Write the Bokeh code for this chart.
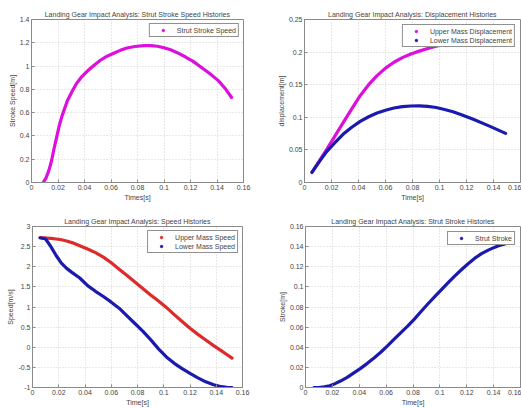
from bokeh.plotting import figure
from bokeh.layouts import column, row
from bokeh.models import Range1d, FixedTicker, Legend, LegendItem
from bokeh.embed import file_html
from bokeh.resources import INLINE

# ---------------- data ----------------
x_ticks = [0, 0.02, 0.04, 0.06, 0.08, 0.10, 0.12, 0.14, 0.16]
x_tick_labels = ["0", "0.02", "0.04", "0.06", "0.08", "0.1", "0.12", "0.14", "0.16"]

# Strut stroke speed
t_ss = [0.0089, 0.011, 0.013, 0.015, 0.017, 0.019, 0.021, 0.023, 0.027, 0.031, 0.034,
        0.038, 0.042, 0.047, 0.052, 0.057, 0.062, 0.067, 0.072, 0.078, 0.085, 0.090,
        0.095, 0.100, 0.105, 0.110, 0.116, 0.122, 0.128, 0.134, 0.141, 0.146, 0.151]
strut_speed = [0.0, 0.04, 0.10, 0.18, 0.29, 0.39, 0.49, 0.57, 0.70, 0.79, 0.85,
               0.91, 0.955, 1.005, 1.05, 1.085, 1.11, 1.135, 1.155, 1.168, 1.175, 1.175,
               1.17, 1.157, 1.14, 1.115, 1.08, 1.04, 0.99, 0.94, 0.875, 0.81, 0.73]
ss_ticks = [0, 0.2, 0.4, 0.6, 0.8, 1.0, 1.2, 1.4]
ss_tick_labels = ["0", "0.2", "0.4", "0.6", "0.8", "1", "1.2", "1.4"]

# Displacements
t_disp = [0.0055, 0.011, 0.01625, 0.0225, 0.02875, 0.035, 0.04125, 0.0475, 0.05375,
          0.060, 0.06625, 0.0725, 0.07875, 0.085, 0.09125, 0.0975, 0.10375, 0.110,
          0.11625, 0.125, 0.137, 0.149]
upper_disp = [0.0154, 0.033, 0.050, 0.071, 0.0922, 0.113, 0.1332, 0.150, 0.164,
              0.1755, 0.1844, 0.1915, 0.197, 0.2015, 0.2055, 0.209, 0.2122, 0.215,
              0.2175, 0.2205, 0.2228, 0.2238]
lower_disp = [0.0154, 0.032, 0.047, 0.061, 0.0743, 0.0848, 0.0938, 0.1008, 0.1066,
              0.1108, 0.1142, 0.1163, 0.1173, 0.1175, 0.1168, 0.1150, 0.1120, 0.1084,
              0.1040, 0.0970, 0.0865, 0.0753]
disp_ticks = [0, 0.05, 0.10, 0.15, 0.20, 0.25]
disp_tick_labels = ["0", "0.05", "0.1", "0.15", "0.2", "0.25"]

# Speeds
t_spd = [0.0058, 0.010, 0.014, 0.018, 0.022, 0.026, 0.030, 0.036, 0.042, 0.048,
         0.054, 0.060, 0.066, 0.072, 0.078, 0.084, 0.090, 0.096, 0.102, 0.108,
         0.114, 0.120, 0.126, 0.132, 0.138, 0.144, 0.148, 0.152]
upper_speed = [2.72, 2.715, 2.705, 2.69, 2.67, 2.64, 2.60, 2.52, 2.44, 2.35,
               2.24, 2.10, 1.94, 1.78, 1.62, 1.46, 1.30, 1.15, 0.99, 0.81,
               0.64, 0.47, 0.32, 0.18, 0.04, -0.09, -0.18, -0.27]
lower_speed = [2.72, 2.69, 2.50, 2.28, 2.09, 1.96, 1.86, 1.72, 1.53, 1.39,
               1.26, 1.12, 0.97, 0.78, 0.59, 0.40, 0.19, -0.04, -0.24, -0.40,
               -0.53, -0.65, -0.76, -0.86, -0.93, -0.98, -0.995, -1.0]
spd_ticks = [-1, -0.5, 0, 0.5, 1, 1.5, 2, 2.5, 3]
spd_tick_labels = ["-1", "-0.5", "0", "0.5", "1", "1.5", "2", "2.5", "3"]

# Strut stroke
t_st = [0.0063, 0.010, 0.014, 0.018, 0.022, 0.026, 0.031, 0.036, 0.041, 0.046,
        0.051, 0.056, 0.061, 0.066, 0.071, 0.076, 0.081, 0.086, 0.091, 0.096,
        0.101, 0.106, 0.111, 0.116, 0.121, 0.126, 0.131, 0.136, 0.141, 0.145, 0.149]
stroke = [0.0, 0.0, 0.0006, 0.0018, 0.0038, 0.0064, 0.010, 0.0145, 0.019, 0.024,
          0.0293, 0.035, 0.0413, 0.048, 0.0545, 0.061, 0.068, 0.0755, 0.083, 0.090,
          0.097, 0.104, 0.1107, 0.117, 0.123, 0.1285, 0.133, 0.1365, 0.1395, 0.1415, 0.143]
st_ticks = [0, 0.02, 0.04, 0.06, 0.08, 0.10, 0.12, 0.14, 0.16]
st_tick_labels = ["0", "0.02", "0.04", "0.06", "0.08", "0.1", "0.12", "0.14", "0.16"]

MAGENTA = "#dc0fdc"
BLUE = "#1a1aae"
RED = "#de2a2a"
FONT = "Liberation Sans"
TXT = "#444444"
FRAME = "#8a8a8a"


def make_fig(title, xlabel, ylabel, yrange, yticks, ylabels, w, h, bl, br, bt, bb):
    p = figure(width=w, height=h, output_backend="svg", toolbar_location=None,
               x_range=Range1d(0, 0.16), y_range=Range1d(*yrange),
               min_border_left=bl, min_border_right=br,
               min_border_top=bt, min_border_bottom=bb)
    p.background_fill_color = "white"
    p.border_fill_color = "white"
    p.outline_line_color = FRAME
    p.outline_line_width = 1
    p.title.text = title
    p.title.text_font = FONT
    p.title.text_font_size = "7px"
    p.title.text_font_style = "normal"
    p.title.text_color = TXT
    p.title.align = "center"
    p.title.standoff = 3
    p.xaxis.ticker = FixedTicker(ticks=x_ticks)
    p.xaxis.major_label_overrides = dict(zip(x_ticks, x_tick_labels))
    p.yaxis.ticker = FixedTicker(ticks=yticks)
    p.yaxis.major_label_overrides = dict(zip(yticks, ylabels))
    p.xaxis.axis_label = xlabel
    p.yaxis.axis_label = ylabel
    for ax in (p.xaxis, p.yaxis):
        ax.axis_label_text_font = FONT
        ax.axis_label_text_font_size = "7px"
        ax.axis_label_text_font_style = "normal"
        ax.axis_label_text_color = TXT
        ax.major_label_text_font = FONT
        ax.major_label_text_font_size = "7px"
        ax.major_label_text_color = TXT
        ax.axis_line_color = FRAME
        ax.major_tick_line_color = FRAME
        ax.major_tick_in = 3
        ax.major_tick_out = 0
        ax.minor_tick_line_color = None
        ax.major_label_standoff = 2
        ax.axis_label_standoff = 1
    p.grid.grid_line_color = "#d0d0d0"
    p.grid.grid_line_dash = "1 2"
    p.grid.grid_line_width = 1
    return p


def add_series(p, x, y, color):
    p.line(x, y, line_width=3.2, color=color, line_join="round", line_cap="round")
    r = p.scatter(x, y, size=0, marker="circle", fill_color=color, line_color=color)
    return r


def add_legend(p, items, margin):
    lg = Legend(items=[LegendItem(label=l, renderers=[r]) for l, r in items],
                location="top_right")
    lg.label_text_font = FONT
    lg.label_text_font_size = "7px"
    lg.label_text_color = TXT
    lg.label_height = 8
    lg.glyph_height = 6
    lg.glyph_width = 22
    lg.label_standoff = 3
    lg.padding = 2
    lg.spacing = 1
    lg.margin = margin
    lg.border_line_color = "#222222"
    lg.border_line_width = 1
    lg.background_fill_color = "white"
    lg.background_fill_alpha = 1
    p.add_layout(lg)


p1 = make_fig("Landing Gear Impact Analysis: Strut Stroke Speed Histories",
              "Times[s]", "Stroke Speed[m]", (0, 1.4), ss_ticks, ss_tick_labels,
              260, 204, 31, 17, 19, 22)
r1 = add_series(p1, t_ss, strut_speed, MAGENTA)
add_legend(p1, [("Strut Stroke Speed", r1)], 4)

p2 = make_fig("Landing Gear Impact Analysis: Displacement Histories",
              "Time[s]", "displacement[m]", (0, 0.25), disp_ticks, disp_tick_labels,
              261, 204, 44, 1, 19, 22)
r2a = add_series(p2, t_disp, upper_disp, MAGENTA)
r2b = add_series(p2, t_disp, lower_disp, BLUE)
add_legend(p2, [("Upper Mass Displacement", r2a), ("Lower Mass Displacement", r2b)], 5)

p3 = make_fig("Landing Gear Impact Analysis: Speed Histories",
              "Time[s]", "Speed[m/s]", (-1, 3), spd_ticks, spd_tick_labels,
              260, 204, 32, 18, 22, 17)
r3a = add_series(p3, t_spd, upper_speed, RED)
r3b = add_series(p3, t_spd, lower_speed, BLUE)
add_legend(p3, [("Upper Mass Speed", r3a), ("Lower Mass Speed", r3b)], 4)

p4 = make_fig("Landing Gear Impact Analysis: Strut Stroke Histories",
              "Time[s]", "Stroke[m]", (0, 0.16), st_ticks, st_tick_labels,
              261, 204, 45, 1, 22, 17)
r4 = add_series(p4, t_st, stroke, BLUE)
add_legend(p4, [("Strut Stroke", r4)], 5)

layout = column(row(p1, p2, spacing=0), row(p3, p4, spacing=0), spacing=0)

open("out.html", "w").write(file_html(layout, INLINE))
